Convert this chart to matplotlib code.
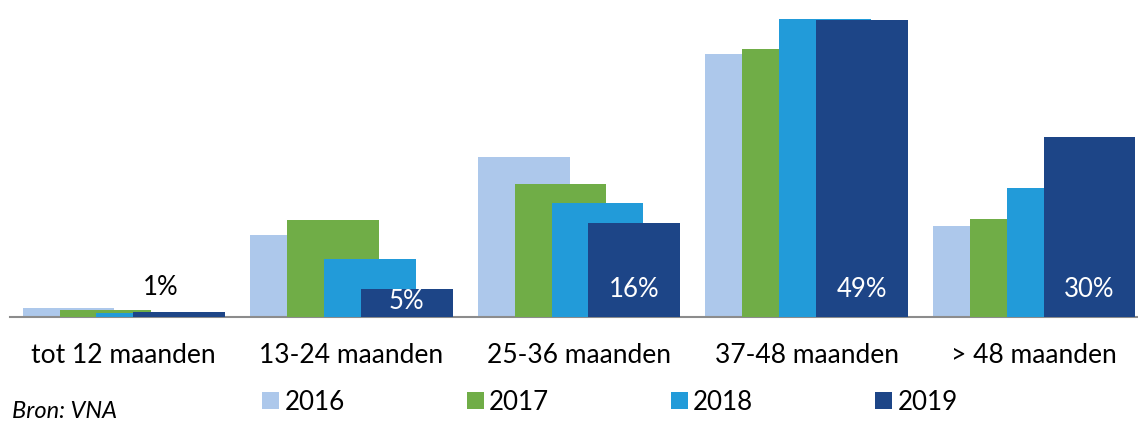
import matplotlib.pyplot as plt
import numpy as np
from matplotlib.patches import Patch

plt.rcParams['font.family'] = ['Lato', 'DejaVu Sans']

# Data (share of loans, %)
categories = ['tot 12 maanden', '13-24 maanden', '25-36 maanden', '37-48 maanden', '> 48 maanden']
years = ['2016', '2017', '2018', '2019']
values = {
    '2016': [1.5, 13.6, 26.4, 43.5, 15.0],
    '2017': [1.1, 16.0, 22.0, 44.3, 16.2],
    '2018': [0.7, 9.6, 18.9, 49.3, 21.4],
    '2019': [0.8, 4.7, 15.6, 49.1, 29.7],
}
labels_2019 = ['1%', '5%', '16%', '49%', '30%']
colors = ['#ADC8EB', '#70AD47', '#229BD9', '#1D4587']

fig = plt.figure(figsize=(11.38, 4.25), dpi=100)
ax = fig.add_axes([10 / 1138, 1 - 317 / 425, 1, 317 / 425])

x = np.arange(len(categories))
width = 0.403
step = 0.162
for i, yr in enumerate(years):
    ax.bar(x + (i - 1.5) * step, values[yr], width, color=colors[i], zorder=2 + i)

# labels for 2019
x19 = x + 1.5 * step
for j, lab in enumerate(labels_2019):
    if j == 0:
        ax.text(x19[j] - 0.08, 4.8, lab, ha='center', va='center', fontsize=18.5, color='black', zorder=10)
    elif j == 1:
        ax.text(x19[j], 2.6, lab, ha='center', va='center', fontsize=18.5, color='white', zorder=10)
    else:
        ax.text(x19[j], 4.6, lab, ha='center', va='center', fontsize=18.5, color='white', zorder=10)

ax.set_xlim(-0.5, 4.5)
ax.set_ylim(0, 317 / 6.05)
for s in ['top', 'right', 'left']:
    ax.spines[s].set_visible(False)
ax.spines['bottom'].set_color('#8C8C8C')
ax.spines['bottom'].set_linewidth(1.5)
ax.set_yticks([])
ax.set_xticks(x)
ax.set_xticklabels(categories, fontsize=19)
ax.tick_params(axis='x', length=0, pad=19)

handles = [Patch(facecolor=c, label=y) for c, y in zip(colors, years)]
fig.legend(handles=handles, loc='center', bbox_to_anchor=(610 / 1138, 1 - 402 / 425), ncol=4,
           frameon=False, fontsize=18.7, handlelength=0.65, handleheight=0.65,
           handletextpad=0.2, columnspacing=4.7, borderaxespad=0)

fig.text(12 / 1138, 1 - 411 / 425, 'Bron: VNA', fontsize=17, style='italic', va='center', ha='left')

fig.savefig('out.png', dpi=100)
